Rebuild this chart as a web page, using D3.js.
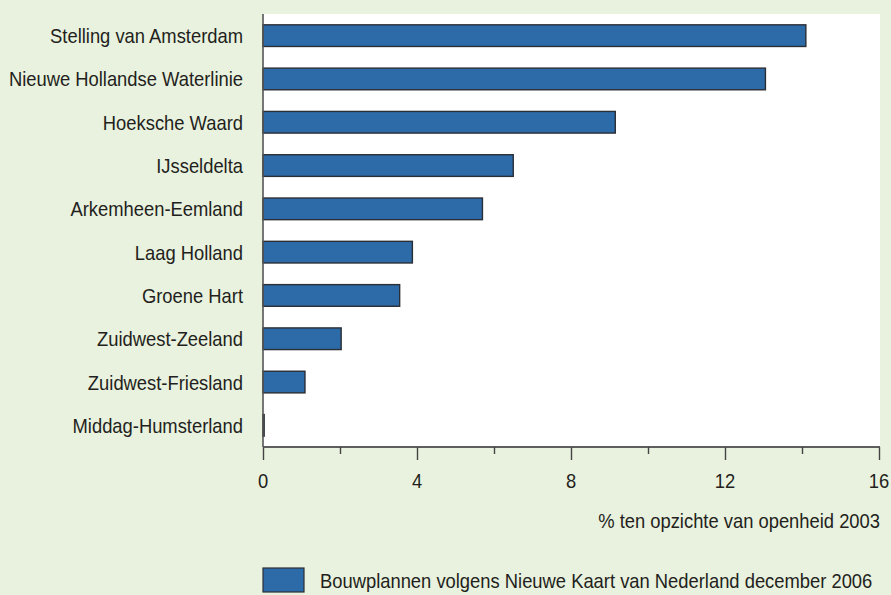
<!DOCTYPE html>
<html>
<head>
<meta charset="utf-8">
<script src="https://cdn.jsdelivr.net/npm/d3@7"></script>
<style>
  html, body { margin: 0; padding: 0; background: #e9f2de; }
  svg { display: block; }
  text { font-family: "Liberation Sans", Arial, Helvetica, sans-serif; fill: #231f20; }
</style>
</head>
<body>
<svg id="chart" width="891" height="595"></svg>
<script>
// Regions, ordered from largest to smallest share
const regions = [
  "Stelling van Amsterdam",
  "Nieuwe Hollandse Waterlinie",
  "Hoeksche Waard",
  "IJsseldelta",
  "Arkemheen-Eemland",
  "Laag Holland",
  "Groene Hart",
  "Zuidwest-Zeeland",
  "Zuidwest-Friesland",
  "Middag-Humsterland"
];
// Loss of openness (% relative to 2003)
const values = [14.1, 13.05, 9.15, 6.5, 5.7, 3.88, 3.55, 2.03, 1.09, 0.03];
const majorTicks = [0, 4, 8, 12, 16];
const minorTicks = [2, 6, 10, 14];
const axisTitle = "% ten opzichte van openheid 2003";
const legendLabel = "Bouwplannen volgens Nieuwe Kaart van Nederland december 2006";

const W = 891, H = 595;
const plot = { left: 263, right: 880, top: 14, bottom: 447 };
const fontSize = 21;
const squeeze = 0.875;   // condensed type

const svg = d3.select("#chart");

svg.append("rect").attr("width", W).attr("height", H).attr("fill", "#e9f2de");

const x = d3.scaleLinear().domain([0, 16]).range([plot.left, plot.right - 1]);
const y = d3.scaleBand().domain(regions).range([plot.top, plot.bottom]).paddingInner(0.5).paddingOuter(0.25);

// plot area
svg.append("rect")
  .attr("x", plot.left).attr("y", plot.top)
  .attr("width", plot.right - plot.left).attr("height", plot.bottom - plot.top)
  .attr("fill", "#ffffff");

// helper for condensed text
function ctext(g, tx, ty, str, anchor) {
  return g.append("text")
    .attr("transform", `translate(${tx},${ty}) scale(${squeeze},1)`)
    .attr("text-anchor", anchor)
    .attr("font-size", fontSize)
    .text(str);
}

// bars
svg.append("g").selectAll("rect")
  .data(values)
  .join("rect")
  .attr("x", x(0))
  .attr("y", (d, i) => y(regions[i]))
  .attr("width", d => Math.max(x(d) - x(0), 1))
  .attr("height", y.bandwidth())
  .attr("fill", "#2d6aa8")
  .attr("stroke", "#2a2e35")
  .attr("stroke-width", 1.4);

// category labels
const labels = svg.append("g");
regions.forEach(r => ctext(labels, 243, y(r) + y.bandwidth() / 2 + 7.5, r, "end"));

// left axis line
svg.append("line")
  .attr("x1", plot.left).attr("x2", plot.left)
  .attr("y1", plot.top).attr("y2", plot.bottom)
  .attr("stroke", "#555").attr("stroke-width", 1.6);

// bottom axis with major/minor ticks
const axisG = svg.append("g").attr("transform", `translate(0,${plot.bottom})`);
axisG.call(d3.axisBottom(x).tickValues(majorTicks).tickSize(13).tickFormat(""));
axisG.append("g").call(d3.axisBottom(x).tickValues(minorTicks).tickSize(7).tickFormat(""));
axisG.selectAll(".domain").attr("stroke", "#555").attr("stroke-width", 1.6)
  .attr("d", `M${plot.left},0H${plot.right}`);
axisG.selectAll(".tick line").attr("stroke", "#444").attr("stroke-width", 1.4);

const tickLabels = svg.append("g");
majorTicks.forEach(t => ctext(tickLabels, x(t), 488, String(t), "middle"));

// axis title
ctext(svg.append("g"), plot.right, 528, axisTitle, "end");

// legend
svg.append("rect")
  .attr("x", 263).attr("y", 568).attr("width", 41).attr("height", 24)
  .attr("fill", "#2d6aa8").attr("stroke", "#2a2e35").attr("stroke-width", 1.2);
ctext(svg.append("g"), 320, 588, legendLabel, "start");
</script>
</body>
</html>
